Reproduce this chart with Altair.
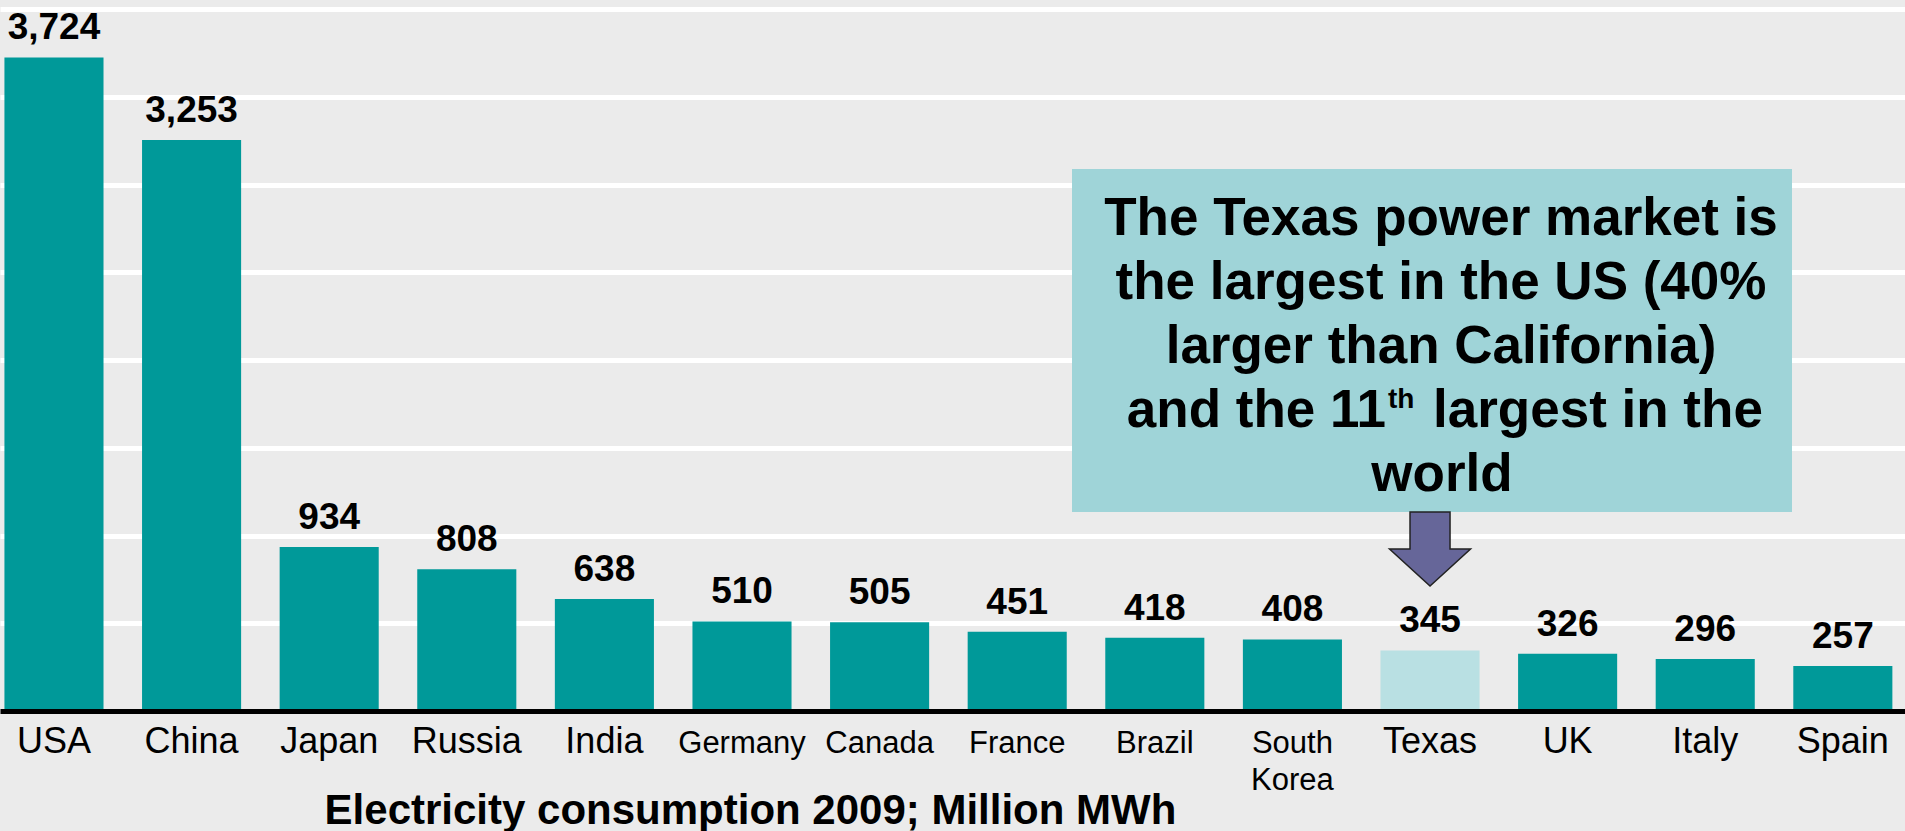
import altair as alt
import pandas as pd

countries = ["USA", "China", "Japan", "Russia", "India", "Germany", "Canada",
             "France", "Brazil", "South Korea", "Texas", "UK", "Italy", "Spain"]
values = [3724, 3253, 934, 808, 638, 510, 505, 451, 418, 408, 345, 326, 296, 257]
groups = ["Texas" if c == "Texas" else "World" for c in countries]

callout_lines = ["The Texas power market is", "the largest in the US (40%",
                 "larger than California)"]
callout_line4 = ["and the 11", "th", "largest in the"]
callout_line5 = "world"
axis_title = "Electricity consumption 2009; Million MWh"

FONT = "Liberation Sans"

df = pd.DataFrame({"country": countries, "value": values, "group": groups})

x_enc = alt.X(
    "country:N", sort=countries,
    scale=alt.Scale(paddingInner=0.28, paddingOuter=0.062, align=0.26),
    axis=alt.Axis(
        title=axis_title, titleFont=FONT, titleFontSize=42, titleFontWeight="bold",
        titleColor="black", titleX=750, titleY=112, titleBaseline="alphabetic",
        titleAlign="center", titleAngle=0,
        labelAngle=0, labelFont=FONT, labelColor="black",
        labelFontSize={"condition": {"test": "indexof(['Germany','Canada','France','Brazil','South Korea'], datum.value) >= 0", "value": 31}, "value": 36},
        labelExpr="datum.value == 'South Korea' ? ['South', 'Korea'] : datum.value",
        labelLineHeight=37, labelBaseline="alphabetic", labelPadding=41,
        labelOverlap=False, labelFlush=False, labelLimit=400,
        ticks=False, domainColor="black", domainWidth=5, grid=False, zindex=1,
    ),
)
y_enc = alt.Y(
    "value:Q",
    scale=alt.Scale(domain=[0, 4000], nice=False),
    axis=alt.Axis(title=None, labels=False, ticks=False, domain=False,
                  grid=True, gridColor="white", gridWidth=5, values=list(range(500, 4001, 500))),
)

base = alt.Chart(df)
bars = base.mark_bar().encode(
    x=x_enc, y=y_enc,
    color=alt.Color("group:N", scale=alt.Scale(domain=["World", "Texas"], range=["#009999", "#B9E0E3"]), legend=None),
)
vals = base.mark_text(font=FONT, fontSize=37, fontWeight="bold", baseline="alphabetic", dy=-18, color="black").encode(
    x=alt.X("country:N", sort=countries), y="value:Q",
    text=alt.Text("value:Q", format=","),
)

one = pd.DataFrame({"k": [0]})
box = alt.Chart(one).mark_rect(color="#9FD4D8").encode(
    x=alt.value(1072), x2=alt.value(1792), y=alt.value(160), y2=alt.value(503)
)
box_text = alt.Chart(one).mark_text(
    font=FONT, fontSize=53, fontWeight="bold", color="black", align="center",
    baseline="alphabetic", lineHeight=64, text=callout_lines,
).encode(x=alt.value(1441), y=alt.value(226))
l4a = alt.Chart(one).mark_text(
    font=FONT, fontSize=53, fontWeight="bold", color="black", align="right",
    baseline="alphabetic", text=callout_line4[0],
).encode(x=alt.value(1386), y=alt.value(418))
l4b = alt.Chart(one).mark_text(
    font=FONT, fontSize=28, fontWeight="bold", color="black", align="left",
    baseline="alphabetic", text=callout_line4[1],
).encode(x=alt.value(1388), y=alt.value(399))
l4c = alt.Chart(one).mark_text(
    font=FONT, fontSize=53, fontWeight="bold", color="black", align="left",
    baseline="alphabetic", text=callout_line4[2],
).encode(x=alt.value(1433), y=alt.value(418))
l5 = alt.Chart(one).mark_text(
    font=FONT, fontSize=53, fontWeight="bold", color="black", align="center",
    baseline="alphabetic", text=callout_line5,
).encode(x=alt.value(1442), y=alt.value(482))

arrow_path = "M -0.494 -0.914 L 0.494 -0.914 L 0.494 0 L 1 0 L 0 0.914 L -1 0 L -0.494 0 Z"
arrow = alt.Chart(pd.DataFrame({"country": ["Texas"]})).mark_point(
    shape=arrow_path, size=6561, filled=True, fill="#666699", stroke="#222222",
    strokeWidth=1.5, opacity=1,
).encode(x=alt.X("country:N", sort=countries), y=alt.value(540))

chart = alt.layer(bars, vals, box, box_text, l4a, l4b, l4c, l5, arrow).properties(
    width=1905, height=702,
    padding={"top": 9, "left": 0, "right": 0, "bottom": 120},
    autosize=alt.AutoSizeParams(type="none"),
).configure(background="#EBEBEB").configure_view(strokeWidth=0)

chart.save("out.html", embed_options={"renderer": "svg", "actions": False})
